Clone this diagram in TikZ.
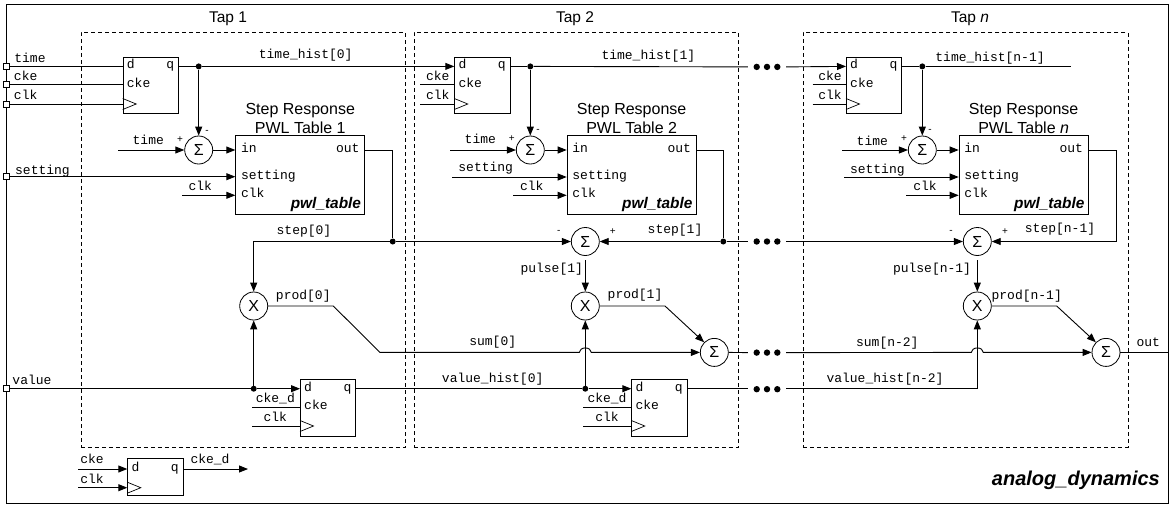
\documentclass[tikz,border=0pt]{standalone}
\usepackage{fontspec}
\setmainfont{Liberation Sans}
\newfontfamily\sigfont{Liberation Mono}
\usetikzlibrary{arrows.meta,calc}

\begin{document}
\begin{tikzpicture}[
  x=1pt, y=-1pt,
  tapbox/.style={draw, dash pattern=on 4pt off 3pt, line width=0.8pt, anchor=north west, inner sep=0pt, minimum width=324.5pt, minimum height=415pt},
  taptext/.style={font=\fontsize{15.5}{18}\selectfont, inner sep=0pt},
  titletext/.style={font=\fontsize{16}{19}\selectfont, align=center, inner sep=0pt},
  dff/.style={draw, fill=white, line width=0.9pt, anchor=north west, inner sep=0pt, minimum width=55.4pt, minimum height=56.7pt},
  tbl/.style={draw, fill=white, line width=0.9pt, anchor=north west, inner sep=0pt, minimum width=129pt, minimum height=78.7pt},
  op/.style={draw, fill=white, circle, line width=0.8pt, inner sep=0pt, minimum size=28pt, font=\fontsize{16}{16}\selectfont},
  pinbox/.style={draw, fill=white, line width=0.8pt, inner sep=0pt, minimum size=6pt},
  junc/.style={circle, fill=black, inner sep=0pt, minimum size=6pt},
  ell/.style={inner sep=0pt, minimum width=38pt, minimum height=8pt, path picture={\fill (path picture bounding box.center) circle (3.2pt) +(-10.3pt,0) circle (3.2pt) +(10.3pt,0) circle (3.2pt);}},
  sig/.style={font=\sigfont\fontsize{13}{13}\selectfont, inner sep=0pt, text height=7pt, text depth=2pt},
  sgn/.style={font=\fontsize{10}{10}\selectfont, inner sep=0pt},
  blockname/.style={font=\bfseries\itshape\fontsize{15.4}{15.4}\selectfont, inner sep=0pt, anchor=east},
  wire/.style={line width=0.9pt},
  arr/.style={wire, -{Triangle[length=9pt,width=7pt]}}
]
\useasboundingbox (0,0) rectangle (1169,504);
\draw[line width=1pt] (6.5,4) rectangle (1168.5,503);

% tap frames
\node[tapbox] (tap1) at (80.5,32) {};
\node[tapbox] (tap2) at (413.5,32) {};
\node[tapbox] (tapn) at (803,32) {};
\node[taptext] (lab1) at (228,19) {Tap 1};
\node[taptext] (lab2) at (575,19) {Tap 2};
\node[taptext] (labn) at (970,19) {Tap \textit{n}};

% top level pins
\node[pinbox] (ptime) at (6.5,66.4) {};
\node[pinbox] (pcke) at (6.5,84.7) {};
\node[pinbox] (pclk) at (6.5,104) {};
\node[pinbox] (psetting) at (6.5,176.7) {};
\node[pinbox] (pvalue) at (6.5,388.7) {};
\node[sig] (ltime) at (30,60) {time};
\node[sig] (lcke) at (25.7,78) {cke};
\node[sig] (lclk) at (25.7,97) {clk};
\node[sig] (lsetting) at (42.5,172) {setting};
\node[sig] (lvalue) at (32,382) {value};

% time flops
\node[dff] (dffT1) at (122.7,56.7) {};
\node[dff] (dffT2) at (454.3,56.7) {};
\node[dff] (dffTn) at (846,56.7) {};
\node[sig, anchor=west] (dT1) at ($(dffT1.north west)+(4,9.7)$) {d};
\node[sig, anchor=west] (ceT1) at ($(dffT1.north west)+(4,28)$) {cke};
\node[sig, anchor=east] (qT1) at ($(dffT1.north east)+(-4.7,9.7)$) {q};
\node[sig, anchor=west] (dT2) at ($(dffT2.north west)+(4,9.7)$) {d};
\node[sig, anchor=west] (ceT2) at ($(dffT2.north west)+(4,28)$) {cke};
\node[sig, anchor=east] (qT2) at ($(dffT2.north east)+(-4.7,9.7)$) {q};
\node[sig, anchor=west] (dTn) at ($(dffTn.north west)+(4,9.7)$) {d};
\node[sig, anchor=west] (ceTn) at ($(dffTn.north west)+(4,28)$) {cke};
\node[sig, anchor=east] (qTn) at ($(dffTn.north east)+(-4.7,9.7)$) {q};
\coordinate (ckT1) at ($(dffT1.north west)+(0,47.3)$);
\coordinate (ckT2) at ($(dffT2.north west)+(0,47.3)$);
\coordinate (ckTn) at ($(dffTn.north west)+(0,47.3)$);
\draw[line width=0.7pt] (ckT1) +(0,-5.5) -- +(13.5,0) -- +(0,5.5);
\draw[line width=0.7pt] (ckT2) +(0,-5.5) -- +(13.5,0) -- +(0,5.5);
\draw[line width=0.7pt] (ckTn) +(0,-5.5) -- +(13.5,0) -- +(0,5.5);

% value flops
\node[dff] (dffV1) at (300,379) {};
\node[dff] (dffV2) at (631.3,379) {};
\node[sig, anchor=west] (dV1) at ($(dffV1.north west)+(4,9.7)$) {d};
\node[sig, anchor=west] (ceV1) at ($(dffV1.north west)+(4,28.3)$) {cke};
\node[sig, anchor=east] (qV1) at ($(dffV1.north east)+(-4.7,9.7)$) {q};
\node[sig, anchor=west] (dV2) at ($(dffV2.north west)+(4,9.7)$) {d};
\node[sig, anchor=west] (ceV2) at ($(dffV2.north west)+(4,28.3)$) {cke};
\node[sig, anchor=east] (qV2) at ($(dffV2.north east)+(-4.7,9.7)$) {q};
\coordinate (ckV1) at ($(dffV1.north west)+(0,47)$);
\coordinate (ckV2) at ($(dffV2.north west)+(0,47)$);
\draw[line width=0.7pt] (ckV1) +(0,-5.5) -- +(13.5,0) -- +(0,5.5);
\draw[line width=0.7pt] (ckV2) +(0,-5.5) -- +(13.5,0) -- +(0,5.5);

% enable flop under tap 1
\node[dff, minimum height=37pt] (dffB) at (127.3,458.3) {};
\node[sig, anchor=west] (dB) at ($(dffB.north west)+(4,10.7)$) {d};
\node[sig, anchor=east] (qB) at ($(dffB.north east)+(-4.7,10.7)$) {q};
\coordinate (ckB) at ($(dffB.north west)+(0,29.4)$);
\draw[line width=0.7pt] (ckB) +(0,-5.5) -- +(13.5,0) -- +(0,5.5);

% pwl tables
\node[tbl] (tbl1) at (235.3,135) {};
\node[tbl] (tbl2) at (566.7,135) {};
\node[tbl] (tbln) at (958.7,135) {};
\node[titletext, above=1.5pt] (ttl1) at (tbl1.north) {Step Response\\PWL Table 1};
\node[titletext, above=1.5pt] (ttl2) at (tbl2.north) {Step Response\\PWL Table 2};
\node[titletext, above=1.5pt] (ttln) at (tbln.north) {Step Response\\PWL Table \textit{n}};
\node[sig, anchor=west] (in1) at ($(tbl1.north west)+(5.5,15)$) {in};
\node[sig, anchor=west] (set1) at ($(tbl1.north west)+(5.5,42)$) {setting};
\node[sig, anchor=west] (clk1) at ($(tbl1.north west)+(5.5,60)$) {clk};
\node[sig, anchor=east] (out1) at ($(tbl1.north east)+(-5.5,15)$) {out};
\node[blockname] (pwl1) at ($(tbl1.south east)+(-4,-10.5)$) {pwl\_table};
\node[sig, anchor=west] (in2) at ($(tbl2.north west)+(5.5,15)$) {in};
\node[sig, anchor=west] (set2) at ($(tbl2.north west)+(5.5,42)$) {setting};
\node[sig, anchor=west] (clk2) at ($(tbl2.north west)+(5.5,60)$) {clk};
\node[sig, anchor=east] (out2) at ($(tbl2.north east)+(-5.5,15)$) {out};
\node[blockname] (pwl2) at ($(tbl2.south east)+(-4,-10.5)$) {pwl\_table};
\node[sig, anchor=west] (inn) at ($(tbln.north west)+(5.5,15)$) {in};
\node[sig, anchor=west] (setn) at ($(tbln.north west)+(5.5,42)$) {setting};
\node[sig, anchor=west] (clkn) at ($(tbln.north west)+(5.5,60)$) {clk};
\node[sig, anchor=east] (outn) at ($(tbln.north east)+(-5.5,15)$) {out};
\node[blockname] (pwln) at ($(tbln.south east)+(-4,-10.5)$) {pwl\_table};

% adders and multipliers
\node[op] (sigT1) at (198.7,150) {Σ};
\node[op] (sigT2) at (530.3,150) {Σ};
\node[op] (sigTn) at (922.3,150) {Σ};
\node[op] (stp2) at (585.3,241.5) {Σ};
\node[op] (stpn) at (977.3,241.5) {Σ};
\node[op] (mul1) at (253.7,306) {X};
\node[op] (mul2) at (585.3,306) {X};
\node[op] (muln) at (977.3,306) {X};
\node[op] (add2) at (714.3,352.4) {Σ};
\node[op] (addn) at (1106,352.4) {Σ};

% junctions and gaps
\node[junc] (jT1) at (198.7,66.4) {};
\node[junc] (jT2) at (530.3,66.4) {};
\node[junc] (jTn) at (922.3,66.4) {};
\node[junc] (jS1) at (392.7,241.5) {};
\node[junc] (jS2) at (723.3,241.5) {};
\node[junc] (jV1) at (253.7,388.7) {};
\node[junc] (jV2) at (585.3,388.7) {};
\node[ell] (ellT) at (767,66.9) {};
\node[ell] (ellS) at (767,241.5) {};
\node[ell] (ellA) at (767,352.6) {};
\node[ell] (ellV) at (767,389.2) {};

% free wire ends and bends
\coordinate (sT2) at (420,84.7);
\coordinate (cT2) at (420,104);
\coordinate (sTn) at (812.7,84.7);
\coordinate (cTn) at (812.7,104);
\coordinate (endT) at (1070.7,66.4);
\coordinate (tm1) at (118,150);
\coordinate (tm2) at (450,150);
\coordinate (tmn) at (842.3,150);
\coordinate (st2) at (452.3,177);
\coordinate (stn) at (844,177);
\coordinate (ck1) at (182,195.3);
\coordinate (ck2) at (513.3,195.3);
\coordinate (ckn) at (906,195.3);
\coordinate (bendS) at (1116,241.5);
\coordinate (bp1) at (333.3,306);
\coordinate (bq1) at (380,352.4);
\coordinate (bp2) at (665,306);
\coordinate (bpn) at (1056.7,306);
\coordinate (brg2) at (579.3,352.4);
\coordinate (brgn) at (971.3,352.4);
\coordinate (ce1) at (252,407.3);
\coordinate (cv1) at (252,426);
\coordinate (ce2) at (583.3,407.3);
\coordinate (cv2) at (583.3,426);
\coordinate (inB1) at (78,469);
\coordinate (inB2) at (78,487.7);
\coordinate (endB) at (248,469);
\coordinate (endO) at (1169,352.4);

% time path
\draw[wire] (ptime) -- (dffT1.west |- jT1);
\draw[wire] (pcke) -- (dffT1.west |- pcke);
\draw[wire] (pclk) -- (ckT1);
\draw[wire] (dffT1.east |- jT1) -- (jT1);
\draw[arr] (jT1) -- (dffT2.west |- jT1);
\draw[wire] (sT2) -- (dffT2.west |- sT2);
\draw[wire] (cT2) -- (ckT2);
\draw[wire] (dffT2.east |- jT2) -- (jT2);
\draw[wire] (jT2) -- (ellT.west);
\draw[arr] (ellT.east) -- (dffTn.west |- jTn);
\draw[wire] (sTn) -- (dffTn.west |- sTn);
\draw[wire] (cTn) -- (ckTn);
\draw[wire] (dffTn.east |- jTn) -- (jTn);
\draw[wire] (jTn) -- (endT);
\draw[arr] (jT1) -- (sigT1.north);
\draw[arr] (jT2) -- (sigT2.north);
\draw[arr] (jTn) -- (sigTn.north);
\draw[arr] (tm1) -- (sigT1.west);
\draw[arr] (tm2) -- (sigT2.west);
\draw[arr] (tmn) -- (sigTn.west);
\draw[arr] (sigT1.east) -- (tbl1.west |- sigT1);
\draw[arr] (sigT2.east) -- (tbl2.west |- sigT2);
\draw[arr] (sigTn.east) -- (tbln.west |- sigTn);
\draw[arr] (psetting) -- (tbl1.west |- psetting);
\draw[arr] (st2) -- (tbl2.west |- st2);
\draw[arr] (stn) -- (tbln.west |- stn);
\draw[arr] (ck1) -- (tbl1.west |- ck1);
\draw[arr] (ck2) -- (tbl2.west |- ck2);
\draw[arr] (ckn) -- (tbln.west |- ckn);

% step path
\draw[wire] (tbl1.east |- sigT1) -| (jS1);
\draw[wire] (tbl2.east |- sigT2) -| (jS2);
\draw[arr] (tbln.east |- sigTn) -| (bendS) -- (stpn.east);
\draw[arr] (jS1) -| (mul1.north);
\draw[arr] (jS1) -- (stp2.west);
\draw[arr] (jS2) -- (stp2.east);
\draw[wire] (jS2) -- (ellS.west);
\draw[arr] (ellS.east) -- (stpn.west);
\draw[arr, shorten <=4.5pt] (stp2.south) -- (mul2.north);
\draw[arr, shorten <=4.5pt] (stpn.south) -- (muln.north);

% sum path
\draw[arr] (mul1.east) -- (bp1) -- (bq1) -- (brg2) arc[start angle=180, end angle=360, x radius=6, y radius=4.5] -- (add2.west);
\draw[arr] (mul2.east) -- (bp2) -- (add2.north west);
\draw[wire] (add2.east) -- (ellA.west);
\draw[arr] (ellA.east) -- (brgn) arc[start angle=180, end angle=360, x radius=6, y radius=4.5] -- (addn.west);
\draw[arr] (muln.east) -- (bpn) -- (addn.north west);
\draw[wire] (addn.east) -- (endO);

% value path
\draw[wire] (pvalue) -- (jV1);
\draw[arr] (jV1) -- (dffV1.west |- jV1);
\draw[arr] (jV1) -- (mul1.south);
\draw[wire] (dffV1.east |- jV2) -- (jV2);
\draw[arr] (jV2) -- (dffV2.west |- jV2);
\draw[arr] (jV2) -- (mul2.south);
\draw[wire] (dffV2.east |- jV2) -- (ellV.west |- jV2);
\draw[arr] (ellV.east |- jV2) -| (muln.south);
\draw[wire] (ce1) -- (dffV1.west |- ce1);
\draw[wire] (cv1) -- (ckV1);
\draw[wire] (ce2) -- (dffV2.west |- ce2);
\draw[wire] (cv2) -- (ckV2);

% enable flop wires
\draw[arr] (inB1) -- (dffB.west |- inB1);
\draw[arr] (inB2) -- (dffB.west |- inB2);
\draw[arr] (dffB.east |- inB1) -- (endB);

% wire labels, tap 1
\node[sig] (n1) at (305.7,56) {time\_hist[0]};
\node[sig] (n2) at (148.3,142) {time};
\node[sgn] (n3) at (180,139.5) {+};
\node[sgn] (n4) at (207,131.5) {-};
\node[sig] (n5) at (200.3,188) {clk};
\node[sig] (n6) at (304,232.3) {step[0]};
\node[sig] (n7) at (303.3,296.5) {prod[0]};
\node[sig] (n8) at (275.3,400) {cke\_d};
\node[sig] (n9) at (275.3,418.7) {clk};
\node[sig] (n10) at (492.7,343.3) {sum[0]};
\node[sig] (n11) at (492.7,380) {value\_hist[0]};

% wire labels, tap 2
\node[sig] (m1) at (437.7,78) {cke};
\node[sig] (m2) at (437.7,97) {clk};
\node[sig] (m3) at (648.3,57) {time\_hist[1]};
\node[sig] (m4) at (480.3,141) {time};
\node[sgn] (m5) at (511.7,139) {+};
\node[sgn] (m6) at (538,131) {-};
\node[sig] (m7) at (485.7,169.2) {setting};
\node[sig] (m8) at (531.7,188) {clk};
\node[sgn] (m9) at (558.7,232) {-};
\node[sgn] (m10) at (612.7,232) {+};
\node[sig] (m11) at (675,231) {step[1]};
\node[sig] (m12) at (551.7,270) {pulse[1]};
\node[sig] (m13) at (635,296.2) {prod[1]};
\node[sig] (m14) at (607,400) {cke\_d};
\node[sig] (m15) at (607,418.7) {clk};

% wire labels, tap n
\node[sig] (k1) at (830,78) {cke};
\node[sig] (k2) at (830,97) {clk};
\node[sig] (k3) at (990,58.8) {time\_hist[n-1]};
\node[sig] (k4) at (872.3,142.5) {time};
\node[sgn] (k5) at (904,139) {+};
\node[sgn] (k6) at (930,131) {-};
\node[sig] (k7) at (877.3,170.5) {setting};
\node[sig] (k8) at (925,188) {clk};
\node[sgn] (k9) at (951,232) {-};
\node[sgn] (k10) at (1005,232) {+};
\node[sig] (k11) at (1060,229.5) {step[n-1]};
\node[sig] (k12) at (932,270) {pulse[n-1]};
\node[sig] (k13) at (1026.7,296.5) {prod[n-1]};
\node[sig] (k14) at (887.3,344) {sum[n-2]};
\node[sig] (k15) at (885,380) {value\_hist[n-2]};
\node[sig] (k16) at (1148.3,343.5) {out};

% wire labels, enable flop
\node[sig] (b1) at (92,461.3) {cke};
\node[sig] (b2) at (92,480.5) {clk};
\node[sig] (b3) at (210,461.3) {cke\_d};

\node[blockname, font=\bfseries\itshape\fontsize{20}{20}\selectfont] (top) at (1160,480) {analog\_dynamics};
\end{tikzpicture}
\end{document}
